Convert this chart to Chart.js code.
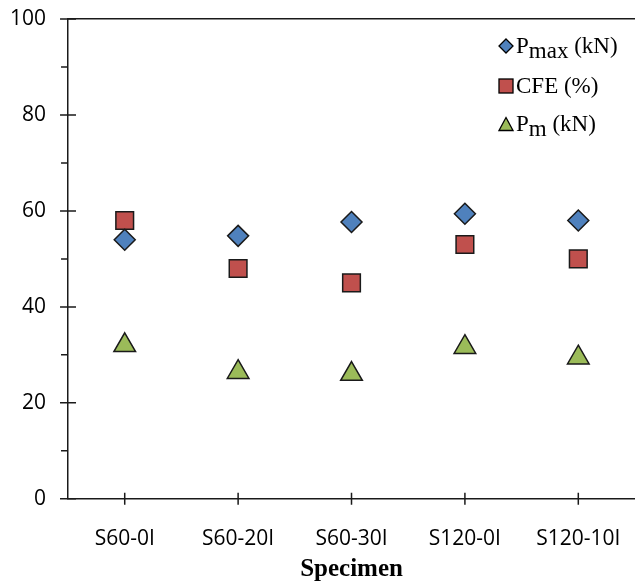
<!DOCTYPE html>
<html>
<head>
<meta charset="utf-8">
<script src="https://cdn.jsdelivr.net/npm/chart.js@4"></script>
<style>
  body { margin: 0; background: #fff; }
  #wrap { position: relative; width: 635px; height: 585px; }
  #legend { position: absolute; left: 0; top: 0; font-family: "Liberation Serif", "Times New Roman", serif; font-size: 23px; color: #000; }
  .item { position: absolute; display: flex; align-items: center; height: 26px; white-space: nowrap; }
  .item svg { margin-right: 2px; }
  .sub { position: relative; top: 5px; }
</style>
</head>
<body>
<div id="wrap">
  <canvas id="chart" width="635" height="585"></canvas>
  <div id="legend"></div>
</div>
<script>
// data
const specimens = ["S60-0I", "S60-20I", "S60-30I", "S120-0I", "S120-10I"];
const pmax = [54, 54.8, 57.7, 59.4, 58];
const cfe = [58, 48, 45, 53, 50];
const pm = [32, 26.4, 26, 31.6, 29.4];
const yTicks = [0, 20, 40, 60, 80, 100];

const axisColor = "#1a1a1a";
const blue = "#4F81BD", red = "#C0504D", green = "#9BBB59";

// tick marks cross the axis line in the reference, so they are drawn here;
// the library's own tick marks are transparent and only keep the label spacing
const crossTicks = {
  id: "crossTicks",
  beforeDatasetsDraw(chart) {
    const { ctx, chartArea, scales: { x, y } } = chart;
    ctx.save();
    ctx.strokeStyle = axisColor;
    ctx.lineWidth = 1.5;
    ctx.beginPath();
    x.ticks.forEach((t, i) => {
      const px = x.getPixelForTick(i);
      ctx.moveTo(px, chartArea.bottom + 6);
      ctx.lineTo(px, chartArea.bottom - 6);
    });
    y.ticks.forEach((t, i) => {
      const py = y.getPixelForTick(i);
      const major = yTicks.includes(t.value);
      ctx.moveTo(chartArea.left - (major ? 8 : 7), py);
      ctx.lineTo(chartArea.left + (major ? 8 : 0), py);
    });
    ctx.stroke();
    ctx.restore();
  }
};

function series(label, data, style, color, radius) {
  return {
    label,
    data,
    showLine: false,
    pointStyle: style,
    pointRadius: radius,
    pointBackgroundColor: color,
    pointBorderColor: axisColor,
    pointBorderWidth: 1.5,
    backgroundColor: color,
    borderColor: axisColor
  };
}

const chart = new Chart(document.getElementById("chart"), {
  type: "line",
  data: {
    labels: specimens,
    datasets: [
      series("Pmax (kN)", pmax, "rectRot", blue, 10.5),
      series("CFE (%)", cfe, "rect", red, 12.5),
      series("Pm (kN)", pm, "triangle", green, 12.5)
    ]
  },
  plugins: [crossTicks],
  options: {
    responsive: false,
    animation: false,
    events: [],
    layout: { autoPadding: false, padding: { left: 5, top: 19, right: 0, bottom: 0 } },
    plugins: {
      legend: { display: false },
      tooltip: { enabled: false }
    },
    scales: {
      x: {
        type: "category",
        offset: true,
        grid: { drawOnChartArea: false, tickLength: 26, tickColor: "rgba(0,0,0,0)" },
        border: { color: axisColor, width: 1.5 },
        ticks: {
          padding: 2,
          maxRotation: 0,
          color: "#000",
          font: { family: "'Open Sans'", size: 21 }
        },
        title: {
          display: true,
          text: "Specimen",
          color: "#000",
          padding: { top: 1, bottom: 0 },
          font: { family: "'Liberation Serif'", size: 25, weight: "bold" }
        }
      },
      top: {
        type: "category",
        position: "top",
        grid: { display: false, drawTicks: false },
        ticks: { display: false },
        border: { color: axisColor, width: 1.5 }
      },
      y: {
        min: 0,
        max: 100,
        grid: { drawOnChartArea: false, tickLength: 17, tickColor: "rgba(0,0,0,0)" },
        border: { color: axisColor, width: 1.5 },
        ticks: {
          stepSize: 10,
          padding: 5,
          color: "#000",
          font: { family: "'Open Sans'", size: 21 },
          callback: (v) => (yTicks.includes(v) ? v : "")
        }
      }
    }
  }
});

// legend with subscripts, built from the dataset colours
const marks = {
  rectRot: (c) => `<svg width="16" height="16"><polygon points="8,1 15,8 8,15 1,8" fill="${c}" stroke="#000" stroke-width="1.3"/></svg>`,
  rect: (c) => `<svg width="16" height="16"><rect x="1" y="1" width="14" height="14" fill="${c}" stroke="#000" stroke-width="1.3"/></svg>`,
  triangle: (c) => `<svg width="16" height="16"><polygon points="8,1.5 15,14.5 1,14.5" fill="${c}" stroke="#000" stroke-width="1.3"/></svg>`
};
const legendText = [
  'P<span class="sub">max</span>&nbsp;(kN)',
  "CFE (%)",
  'P<span class="sub">m</span>&nbsp;(kN)'
];
const legendY = [46, 86, 124];
const legendDiv = document.getElementById("legend");
chart.data.datasets.forEach((ds, i) => {
  const row = document.createElement("div");
  row.className = "item";
  row.style.left = "498px";
  row.style.top = (legendY[i] - 13) + "px";
  row.innerHTML = marks[ds.pointStyle](ds.pointBackgroundColor) + "<span>" + legendText[i] + "</span>";
  legendDiv.appendChild(row);
});
</script>
</body>
</html>
